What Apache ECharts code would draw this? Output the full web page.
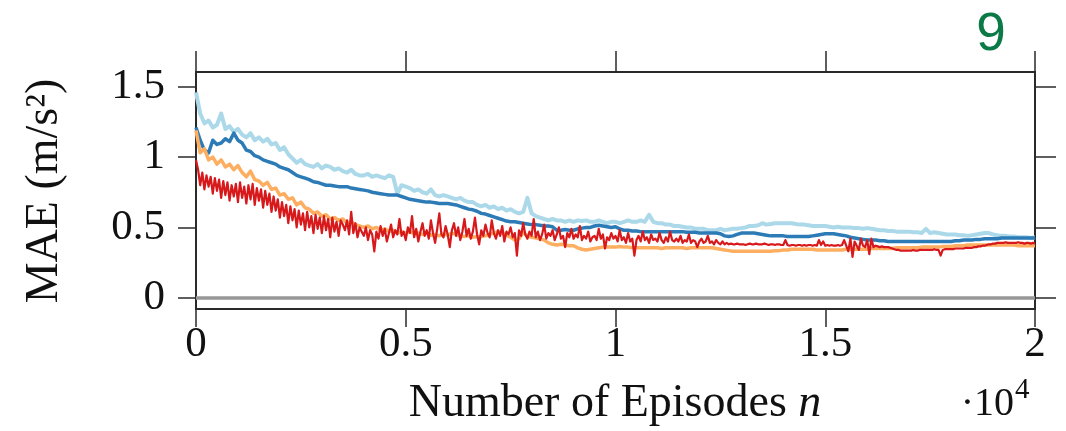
<!DOCTYPE html>
<html>
<head>
<meta charset="utf-8">
<script src="https://cdn.jsdelivr.net/npm/echarts@6/dist/echarts.min.js"></script>
<style>
  html, body { margin: 0; padding: 0; background: #ffffff; }
  #chart { width: 1066px; height: 431px; }
</style>
</head>
<body>
<div id="chart"></div>
<script>
// Episode axis: 0 .. 2·10^4, ticks every 5000 (labelled in units of 10^4)
const xTickValues = [0, 5000, 10000, 15000, 20000];
const yTickValues = [0, 0.5, 1, 1.5];

// Sampling interval (episodes) of each recorded curve
const stepCoarse = 100;
const stepFine = 50;

// MAE (m/s^2), one value every 100 episodes
const maeLightBlue = [
  1.46, 1.31, 1.24, 1.26, 1.21, 1.23, 1.31, 1.20, 1.22, 1.18,
  1.20, 1.16, 1.14, 1.17, 1.12, 1.14, 1.11, 1.13, 1.09, 1.10,
  1.05, 1.07, 1.02, 0.99, 0.96, 0.98, 0.95, 0.94, 0.93, 0.95,
  0.92, 0.94, 0.93, 0.91, 0.92, 0.90, 0.89, 0.91, 0.88, 0.87,
  0.87, 0.88, 0.86, 0.87, 0.86, 0.85, 0.87, 0.86, 0.74, 0.80,
  0.79, 0.78, 0.76, 0.77, 0.75, 0.74, 0.77, 0.73, 0.72, 0.73,
  0.72, 0.71, 0.70, 0.71, 0.69, 0.68, 0.68, 0.66, 0.65, 0.66,
  0.64, 0.65, 0.63, 0.64, 0.62, 0.63, 0.61, 0.60, 0.61, 0.71,
  0.60, 0.58, 0.57, 0.56, 0.55, 0.56, 0.55, 0.55, 0.54, 0.55,
  0.54, 0.55, 0.545, 0.55, 0.54, 0.54, 0.55, 0.54, 0.53, 0.54,
  0.54, 0.53, 0.54, 0.55, 0.54, 0.54, 0.55, 0.54, 0.59, 0.54,
  0.53, 0.53, 0.52, 0.52, 0.51, 0.51, 0.505, 0.50, 0.50, 0.49,
  0.49, 0.49, 0.48, 0.48, 0.48, 0.49, 0.48, 0.485, 0.49, 0.49,
  0.495, 0.50, 0.51, 0.51, 0.515, 0.53, 0.52, 0.525, 0.53, 0.53,
  0.53, 0.53, 0.53, 0.525, 0.52, 0.52, 0.515, 0.51, 0.51, 0.51,
  0.51, 0.505, 0.50, 0.505, 0.50, 0.50, 0.50, 0.495, 0.495, 0.49,
  0.495, 0.49, 0.485, 0.48, 0.48, 0.475, 0.475, 0.47, 0.47, 0.47,
  0.47, 0.465, 0.465, 0.46, 0.49, 0.46, 0.465, 0.46, 0.455, 0.45,
  0.45, 0.45, 0.445, 0.445, 0.44, 0.445, 0.45, 0.455, 0.46, 0.46,
  0.45, 0.445, 0.44, 0.44, 0.435, 0.435, 0.43, 0.43, 0.43, 0.425, 0.43
];

const maeDarkBlue = [
  1.21, 1.12, 1.05, 1.03, 1.12, 1.09, 1.10, 1.13, 1.11, 1.17,
  1.12, 1.10, 1.05, 1.04, 1.01, 1.00, 0.98, 0.97, 0.96, 0.95,
  0.93, 0.92, 0.91, 0.89, 0.87, 0.86, 0.85, 0.84, 0.825, 0.82,
  0.81, 0.80, 0.80, 0.795, 0.79, 0.79, 0.79, 0.78, 0.775, 0.77,
  0.765, 0.76, 0.75, 0.745, 0.74, 0.735, 0.73, 0.73, 0.73, 0.72,
  0.71, 0.70, 0.695, 0.69, 0.685, 0.68, 0.68, 0.675, 0.67, 0.67,
  0.67, 0.665, 0.66, 0.65, 0.64, 0.63, 0.625, 0.615, 0.60, 0.595,
  0.585, 0.575, 0.565, 0.555, 0.545, 0.54, 0.54, 0.535, 0.53, 0.525,
  0.52, 0.52, 0.515, 0.51, 0.51, 0.505, 0.48, 0.48, 0.485, 0.48,
  0.48, 0.49, 0.495, 0.50, 0.50, 0.51, 0.515, 0.51, 0.505, 0.50,
  0.505, 0.49, 0.48, 0.48, 0.475, 0.475, 0.47, 0.47, 0.47, 0.47,
  0.47, 0.47, 0.47, 0.47, 0.47, 0.47, 0.47, 0.465, 0.465, 0.465,
  0.46, 0.46, 0.46, 0.46, 0.46, 0.455, 0.44, 0.435, 0.44, 0.45,
  0.46, 0.46, 0.46, 0.46, 0.455, 0.45, 0.445, 0.44, 0.44, 0.44,
  0.44, 0.435, 0.435, 0.435, 0.435, 0.435, 0.435, 0.44, 0.445, 0.45,
  0.455, 0.455, 0.455, 0.45, 0.445, 0.44, 0.43, 0.425, 0.42, 0.415,
  0.41, 0.41, 0.41, 0.405, 0.405, 0.40, 0.40, 0.40, 0.40, 0.40,
  0.40, 0.40, 0.40, 0.40, 0.40, 0.40, 0.40, 0.40, 0.40, 0.40,
  0.40, 0.405, 0.405, 0.41, 0.41, 0.41, 0.415, 0.415, 0.42, 0.42,
  0.42, 0.42, 0.425, 0.425, 0.425, 0.425, 0.425, 0.425, 0.425, 0.425, 0.425
];

const maeOrange = [
  1.19, 1.03, 1.06, 0.98, 1.00, 0.95, 0.98, 0.93, 0.95, 0.91,
  0.94, 0.89, 0.86, 0.90, 0.84, 0.83, 0.80, 0.82, 0.77, 0.78,
  0.73, 0.74, 0.70, 0.71, 0.66, 0.68, 0.64, 0.63, 0.60, 0.61,
  0.58, 0.59, 0.56, 0.57, 0.55, 0.56, 0.53, 0.54, 0.52, 0.51,
  0.50, 0.51, 0.49, 0.50, 0.48, 0.49, 0.47, 0.48, 0.46, 0.47,
  0.46, 0.47, 0.455, 0.46, 0.45, 0.46, 0.445, 0.45, 0.44, 0.455,
  0.445, 0.46, 0.45, 0.44, 0.435, 0.44, 0.43, 0.435, 0.435, 0.44,
  0.45, 0.46, 0.47, 0.46, 0.445, 0.43, 0.41, 0.42, 0.465, 0.44,
  0.43, 0.425, 0.42, 0.41, 0.39, 0.38, 0.375, 0.38, 0.375, 0.37,
  0.37, 0.355, 0.345, 0.34, 0.345, 0.35, 0.355, 0.36, 0.36, 0.36,
  0.36, 0.365, 0.36, 0.36, 0.355, 0.355, 0.355, 0.355, 0.355, 0.355,
  0.355, 0.35, 0.355, 0.355, 0.355, 0.355, 0.355, 0.35, 0.355, 0.355,
  0.355, 0.355, 0.355, 0.355, 0.35, 0.345, 0.34, 0.335, 0.33, 0.33,
  0.33, 0.33, 0.33, 0.33, 0.33, 0.33, 0.33, 0.33, 0.335, 0.335,
  0.34, 0.34, 0.345, 0.345, 0.345, 0.345, 0.345, 0.345, 0.34, 0.34,
  0.34, 0.34, 0.34, 0.34, 0.34, 0.345, 0.345, 0.345, 0.345, 0.345,
  0.345, 0.35, 0.35, 0.35, 0.35, 0.35, 0.35, 0.355, 0.355, 0.355,
  0.355, 0.355, 0.355, 0.36, 0.36, 0.36, 0.36, 0.36, 0.365, 0.365,
  0.365, 0.37, 0.37, 0.37, 0.375, 0.375, 0.375, 0.375, 0.375, 0.375,
  0.375, 0.375, 0.375, 0.375, 0.375, 0.375, 0.37, 0.37, 0.37, 0.37, 0.37
];

// MAE (m/s^2), one value every 50 episodes
const maeRed = [
  0.98, 0.91, 0.80, 0.89, 0.77, 0.87, 0.79, 0.86, 0.74, 0.85,
  0.76, 0.84, 0.71, 0.83, 0.73, 0.82, 0.69, 0.80, 0.72, 0.81,
  0.68, 0.82, 0.71, 0.79, 0.67, 0.80, 0.70, 0.81, 0.66, 0.78,
  0.69, 0.77, 0.64, 0.76, 0.66, 0.74, 0.61, 0.72, 0.62, 0.70,
  0.57, 0.68, 0.58, 0.66, 0.53, 0.65, 0.55, 0.63, 0.50, 0.62,
  0.52, 0.60, 0.48, 0.61, 0.50, 0.58, 0.46, 0.59, 0.49, 0.57,
  0.46, 0.58, 0.48, 0.56, 0.43, 0.57, 0.47, 0.54, 0.44, 0.55,
  0.52, 0.48, 0.55, 0.45, 0.61, 0.46, 0.53, 0.43, 0.50, 0.47,
  0.44, 0.50, 0.41, 0.48, 0.45, 0.33, 0.47, 0.42, 0.51, 0.44,
  0.49, 0.40, 0.46, 0.52, 0.43, 0.48, 0.45, 0.56, 0.44, 0.47,
  0.41, 0.50, 0.46, 0.58, 0.43, 0.49, 0.40, 0.47, 0.53, 0.44,
  0.48, 0.42, 0.55, 0.46, 0.39, 0.49, 0.60, 0.45, 0.43, 0.51,
  0.45, 0.36, 0.48, 0.53, 0.44, 0.50, 0.41, 0.47, 0.56, 0.44,
  0.49, 0.42, 0.47, 0.57, 0.45, 0.38, 0.48, 0.44, 0.52, 0.46,
  0.43, 0.55, 0.46, 0.42, 0.48, 0.44, 0.51, 0.40, 0.47, 0.45,
  0.50, 0.43, 0.46, 0.30, 0.48, 0.44, 0.53, 0.45, 0.42, 0.47,
  0.44, 0.56, 0.43, 0.47, 0.41, 0.45, 0.52, 0.42, 0.46, 0.44,
  0.48, 0.41, 0.45, 0.50, 0.42, 0.44, 0.36, 0.46, 0.43, 0.49,
  0.42, 0.45, 0.43, 0.51, 0.41, 0.44, 0.42, 0.47, 0.40, 0.43,
  0.44, 0.41, 0.49, 0.42, 0.45, 0.35, 0.43, 0.41, 0.46, 0.42,
  0.44, 0.40, 0.48, 0.41, 0.43, 0.39, 0.46, 0.40, 0.42, 0.30,
  0.41, 0.44, 0.40, 0.47, 0.41, 0.43, 0.39, 0.45, 0.41, 0.42,
  0.40, 0.46, 0.41, 0.39, 0.43, 0.40, 0.47, 0.41, 0.40, 0.42,
  0.40, 0.44, 0.39, 0.41, 0.40, 0.45, 0.39, 0.41, 0.40, 0.36,
  0.40, 0.42, 0.39, 0.40, 0.44, 0.39, 0.40, 0.38, 0.41, 0.39,
  0.38, 0.40, 0.38, 0.39, 0.38, 0.385, 0.38, 0.38, 0.385, 0.38,
  0.38, 0.38, 0.375, 0.38, 0.385, 0.38, 0.38, 0.385, 0.38, 0.38,
  0.38, 0.385, 0.38, 0.375, 0.38, 0.38, 0.375, 0.38, 0.38, 0.375,
  0.375, 0.41, 0.375, 0.37, 0.375, 0.375, 0.37, 0.375, 0.375, 0.37,
  0.375, 0.37, 0.375, 0.375, 0.37, 0.375, 0.37, 0.41, 0.375, 0.40,
  0.37, 0.375, 0.37, 0.375, 0.37, 0.37, 0.375, 0.37, 0.375, 0.41,
  0.37, 0.33, 0.42, 0.29, 0.40, 0.37, 0.34, 0.42, 0.37, 0.36,
  0.41, 0.31, 0.42, 0.36, 0.37, 0.365, 0.36, 0.365, 0.36, 0.36,
  0.36, 0.355, 0.35, 0.345, 0.34, 0.34, 0.335, 0.335, 0.335, 0.335,
  0.335, 0.335, 0.34, 0.335, 0.335, 0.34, 0.34, 0.34, 0.34, 0.34,
  0.34, 0.34, 0.345, 0.34, 0.34, 0.30, 0.34, 0.345, 0.345, 0.345,
  0.345, 0.345, 0.35, 0.35, 0.35, 0.35, 0.35, 0.355, 0.355, 0.355,
  0.355, 0.36, 0.36, 0.365, 0.365, 0.37, 0.37, 0.375, 0.38, 0.38,
  0.385, 0.385, 0.39, 0.39, 0.39, 0.39, 0.395, 0.39, 0.39, 0.39,
  0.39, 0.39, 0.395, 0.39, 0.39, 0.385, 0.39, 0.39, 0.385, 0.39, 0.385
];

const toPoints = (values, step) => values.map((v, i) => [i * step, v]);

const serif = '"Liberation Serif", "Times New Roman", serif';
const ink = '#111111';
const frame = '#2a2a2a';

const chart = echarts.init(document.getElementById('chart'), null, { renderer: 'canvas' });

function lineSeries(name, values, step, color, width) {
  return {
    name: name,
    type: 'line',
    data: toPoints(values, step),
    showSymbol: false,
    symbol: 'none',
    smooth: false,
    lineStyle: { color: color, width: width, join: 'round' },
    itemStyle: { color: color },
    emphasis: { disabled: true },
    xAxisIndex: 0,
    yAxisIndex: 0
  };
}

const tickStyle = { color: frame, width: 1.5 };

const yAxisBase = {
  type: 'value',
  min: -0.08,
  max: 1.605,
  splitLine: { show: false },
  axisLine: { show: false, onZero: false }
};

const xAxisBase = {
  type: 'value',
  min: 0,
  max: 20000,
  interval: 5000,
  splitLine: { show: false },
  axisLine: { show: false, onZero: false }
};

const option = {
  animation: false,
  backgroundColor: '#ffffff',
  grid: {
    left: 196, right: 31, top: 72, bottom: 122,
    show: true,
    borderColor: frame,
    borderWidth: 2,
    backgroundColor: 'transparent'
  },
  xAxis: [
    Object.assign({}, xAxisBase, {
      position: 'bottom',
      axisTick: { show: true, inside: false, length: 18, lineStyle: tickStyle },
      axisLabel: {
        show: true,
        margin: 14,
        fontFamily: serif,
        fontSize: 43,
        color: ink,
        showMinLabel: true,
        showMaxLabel: true,
        formatter: v => String(v / 10000)
      }
    }),
    Object.assign({}, xAxisBase, {
      position: 'top',
      axisTick: { show: true, inside: false, length: 21, lineStyle: tickStyle },
      axisLabel: { show: false }
    })
  ],
  yAxis: [
    Object.assign({}, yAxisBase, {
      position: 'left',
      axisTick: { show: true, inside: false, length: 18, customValues: yTickValues, lineStyle: tickStyle },
      axisLabel: {
        show: true,
        margin: 31,
        fontFamily: serif,
        fontSize: 43,
        color: ink,
        customValues: yTickValues,
        formatter: v => String(v)
      }
    }),
    Object.assign({}, yAxisBase, {
      position: 'right',
      axisTick: { show: true, inside: false, length: 21, customValues: yTickValues, lineStyle: tickStyle },
      axisLabel: { show: false, customValues: yTickValues }
    })
  ],
  series: [
    Object.assign(lineSeries('lightBlue', maeLightBlue, stepCoarse, '#abd9e9', 4), {
      markLine: {
        silent: true,
        symbol: ['none', 'none'],
        label: { show: false },
        lineStyle: { color: '#979797', width: 3.5, type: 'solid' },
        data: [{ yAxis: 0 }]
      }
    }),
    lineSeries('darkBlue', maeDarkBlue, stepCoarse, '#2c7bb6', 3.5),
    lineSeries('orange', maeOrange, stepCoarse, '#fdae61', 3.5),
    lineSeries('red', maeRed, stepFine, '#d7191c', 2.2)
  ],
  graphic: [
    {
      type: 'text',
      x: 45, y: 191,
      rotation: Math.PI / 2,
      style: {
        text: 'MAE (m/s²)',
        font: '46px ' + serif,
        fill: ink,
        align: 'center',
        verticalAlign: 'middle'
      }
    },
    {
      type: 'text',
      x: 615, y: 404,
      style: {
        text: '{t|Number of Episodes }{v|n}',
        fill: ink,
        align: 'center',
        verticalAlign: 'middle',
        rich: {
          t: { font: '46px ' + serif, fill: ink },
          v: { font: 'italic 46px ' + serif, fill: ink }
        }
      }
    },
    {
      type: 'text',
      x: 1014, y: 404,
      style: {
        text: '·10',
        font: '40px ' + serif,
        fill: ink,
        align: 'right',
        verticalAlign: 'middle'
      }
    },
    {
      type: 'text',
      x: 1015, y: 390,
      style: {
        text: '4',
        font: '29px ' + serif,
        fill: ink,
        align: 'left',
        verticalAlign: 'middle'
      }
    },
    {
      type: 'text',
      x: 991, y: 35,
      style: {
        text: '9',
        font: '53px "Liberation Sans", Arial, sans-serif',
        fill: '#0b7a47',
        align: 'center',
        verticalAlign: 'middle'
      }
    }
  ]
};

chart.setOption(option);
</script>
</body>
</html>
